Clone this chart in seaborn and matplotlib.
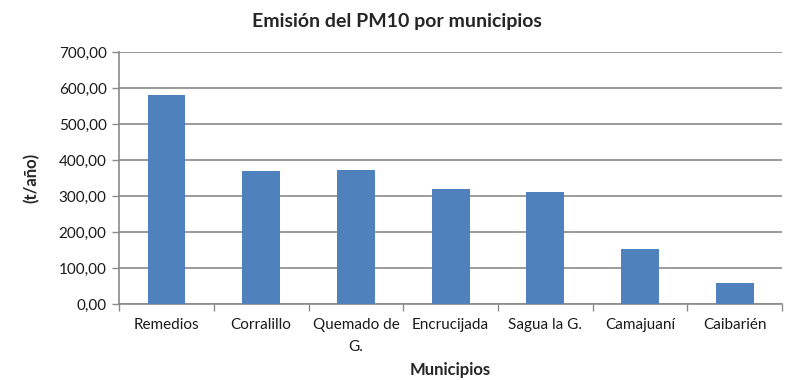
import numpy as np
import pandas as pd
import matplotlib
matplotlib.use("Agg")
import matplotlib.pyplot as plt
import seaborn as sns
from matplotlib.ticker import FuncFormatter, FixedLocator

# Data
municipios = ["Remedios", "Corralillo", "Quemado de\nG.", "Encrucijada",
              "Sagua la G.", "Camajuaní", "Caibarién"]
emision = [580.4, 370.9, 373.6, 319.9, 312.5, 153.9, 59.3]
y_ticks = [0, 100, 200, 300, 400, 500, 600, 700]

sns.set_theme(style="white")
plt.rcParams['font.family'] = ['Lato', 'DejaVu Sans']

df = pd.DataFrame({"Municipio": municipios, "Emision": emision})

fig = plt.figure(figsize=(7.94, 3.8), dpi=100)
ax = fig.add_axes([0.150, 0.200, 0.835, 0.663])

sns.barplot(data=df, x="Municipio", y="Emision", color="#4F81BD",
            width=0.4, saturation=1, linewidth=0, ax=ax, zorder=3)

ax.set_ylim(0, 700)
ax.set_xlim(-0.5, len(municipios) - 0.5)
ax.set_yticks(y_ticks)
ax.yaxis.set_major_formatter(FuncFormatter(lambda v, p: f"{v:.2f}".replace(".", ",")))
ax.grid(axis="y", color="#8a8a8a", linewidth=1.2, zorder=0)
ax.set_axisbelow(True)

# category labels centred, tick marks between categories
ax.xaxis.set_major_locator(FixedLocator(np.arange(len(municipios))))
ax.set_xticklabels(municipios, fontsize=11, color="#1a1a1a", linespacing=1.7)
ax.xaxis.set_minor_locator(FixedLocator(np.arange(-0.5, len(municipios), 1.0)))
ax.tick_params(axis="x", which="major", length=0, pad=10)
ax.tick_params(axis="x", which="minor", length=5, width=1, color="#8a8a8a", direction="out")
ax.tick_params(axis="y", length=5, width=1, color="#8a8a8a", direction="out",
               labelsize=11, labelcolor="#1a1a1a", pad=4)
ax.yaxis.set_ticks_position("left")
ax.xaxis.set_ticks_position("bottom")

for side in ["top", "right"]:
    ax.spines[side].set_visible(False)
for side in ["left", "bottom"]:
    ax.spines[side].set_color("#8a8a8a")
    ax.spines[side].set_linewidth(1.2)

ax.set_xlabel("Municipios", fontsize=12, fontweight="bold", labelpad=6)
ax.set_ylabel("(t/año)", fontsize=12, fontweight="bold", labelpad=14)
fig.suptitle("Emisión del PM10 por municipios", fontsize=14, fontweight="bold",
             x=0.5, y=0.965)

fig.savefig("out.png", dpi=100)
plt.close(fig)
